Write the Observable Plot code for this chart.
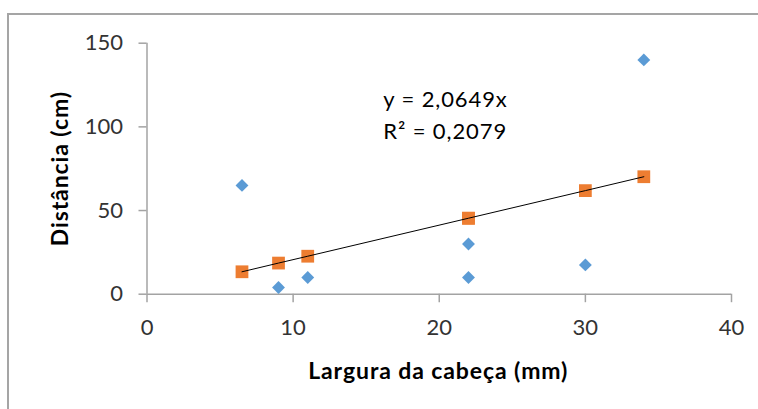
<!DOCTYPE html>
<html><head><meta charset="utf-8">
<script src="https://cdn.jsdelivr.net/npm/d3@7"></script>
<script src="https://cdn.jsdelivr.net/npm/@observablehq/plot@0.6"></script>
<style>
html,body{margin:0;padding:0;background:#fff;overflow:hidden;width:758px;height:409px}
#frame{position:absolute;left:7px;top:13px;width:800px;height:450px;border:2px solid #a5a5a5;box-sizing:border-box}
#chart{position:absolute;left:0;top:0}
#chart g[aria-label="text"] text{letter-spacing:0.9px}
</style></head><body>
<div id="frame"></div><div id="chart"></div>
<script>
const larguras = [6.5, 9, 11, 22, 22, 30, 34];
const distancias = [65, 4, 10, 30, 10, 17.5, 140];
const ajustados = [13.4, 18.6, 22.7, 45.4, 45.4, 61.9, 70.2];
const xTicks = [0, 10, 20, 30, 40];
const yTicks = [0, 50, 100, 150];
const equacao = ["y = 2,0649x", "R² = 0,2079"];
const xLabel = "Largura da cabeça (mm)";
const yLabel = "Distância (cm)";

const idx = larguras.map((_, i) => i);
const font = "Lato, 'Open Sans', sans-serif";
const axisGray = "#a3a3a3";
const labelColor = "#333333";

const chart = Plot.plot({
  width: 758, height: 409,
  marginLeft: 146.5, marginRight: 27, marginTop: 42.7, marginBottom: 115.3,
  style: {fontFamily: font, background: "transparent", overflow: "visible"},
  x: {domain: [0, 40]},
  y: {domain: [0, 150]},
  marks: [
    Plot.ruleY([0], {stroke: axisGray, strokeWidth: 1.5}),
    Plot.ruleX([0], {stroke: axisGray, strokeWidth: 1.5}),
    Plot.axisX({ticks: xTicks, tickSize: 8.5, tickPadding: 17, stroke: axisGray, strokeWidth: 1.5, fill: labelColor, fontSize: 22, label: null}),
    Plot.axisY({ticks: yTicks, tickSize: 8, tickPadding: 16, stroke: axisGray, strokeWidth: 1.5, fill: labelColor, fontSize: 22, label: null}),
    Plot.dot(idx, {x: i => larguras[i], y: i => distancias[i], symbol: "diamond2", r: 5.8, fill: "#5B9BD5", stroke: "none"}),
    Plot.dot(idx, {x: i => larguras[i], y: i => ajustados[i], symbol: "square", r: 7.2, fill: "#ED7D31", stroke: "none"}),
    Plot.line(idx, {x: i => larguras[i], y: i => ajustados[i], stroke: "#000", strokeWidth: 1}),
    Plot.text([equacao.join("\n")], {frameAnchor: "top-left", textAnchor: "start", lineAnchor: "top", dx: 236.2, dy: 40.6, lineHeight: 1.48, fontSize: 22, fill: "#000"}),
    Plot.text([xLabel], {frameAnchor: "bottom", textAnchor: "middle", lineAnchor: "middle", dy: 77.6, dx: -1, fontSize: 23, fontWeight: "bold", fill: "#000"}),
    Plot.text([yLabel], {frameAnchor: "left", textAnchor: "middle", lineAnchor: "middle", rotate: -90, dx: -86, fontSize: 23, fontWeight: "bold", fill: "#000"})
  ]
});
document.getElementById("chart").appendChild(chart);
</script>
</body></html>
